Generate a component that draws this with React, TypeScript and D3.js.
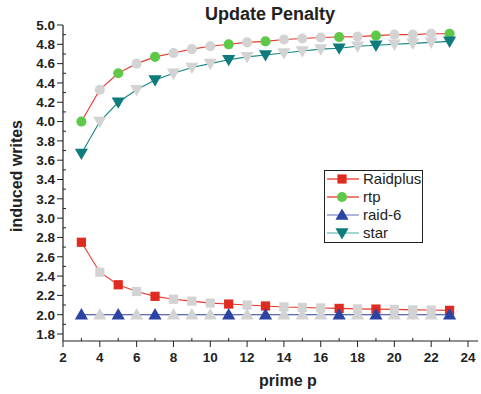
import React from 'react';
import * as d3 from 'd3';

const primes = [3, 4, 5, 6, 7, 8, 9, 10, 11, 12, 13, 14, 15, 16, 17, 18, 19, 20, 21, 22, 23];
const highlighted = [3, 5, 7, 11, 13, 17, 19, 23];

const raidplus = [2.75, 2.44, 2.31, 2.24, 2.19, 2.16, 2.14, 2.12, 2.11, 2.1, 2.09, 2.08, 2.075, 2.07, 2.065, 2.06, 2.058, 2.055, 2.05, 2.048, 2.045];
const rtp = [4.0, 4.33, 4.5, 4.6, 4.67, 4.71, 4.75, 4.78, 4.8, 4.82, 4.83, 4.85, 4.86, 4.87, 4.875, 4.88, 4.89, 4.9, 4.9, 4.91, 4.91];
const raid6 = [2, 2, 2, 2, 2, 2, 2, 2, 2, 2, 2, 2, 2, 2, 2, 2, 2, 2, 2, 2, 2];
const star = [3.67, 4.0, 4.2, 4.33, 4.43, 4.5, 4.56, 4.6, 4.64, 4.67, 4.69, 4.71, 4.73, 4.75, 4.76, 4.78, 4.79, 4.8, 4.81, 4.82, 4.83];

const xTicks = [2, 4, 6, 8, 10, 12, 14, 16, 18, 20, 22, 24];
const yTicks = [1.8, 2.0, 2.2, 2.4, 2.6, 2.8, 3.0, 3.2, 3.4, 3.6, 3.8, 4.0, 4.2, 4.4, 4.6, 4.8, 5.0];

const seriesList = [
  { name: 'Raidplus', values: raidplus, line: '#e8392b', legendLine: '#e8392b', fill: '#e02b20', shape: d3.symbolSquare, size: 85 },
  { name: 'rtp', values: rtp, line: '#e8392b', legendLine: '#e8392b', fill: '#5ec948', shape: d3.symbolCircle, size: 80 },
  { name: 'raid-6', values: raid6, line: '#2a3f9c', legendLine: '#8090cc', fill: '#2b44a3', shape: d3.symbolTriangle, size: 75 },
  { name: 'star', values: star, line: '#148484', legendLine: '#70c0bc', fill: '#0e7c7c', shape: d3.symbolTriangle, size: 75, flip: true },
];

const font = 'Liberation Sans, Arial, Helvetica, sans-serif';

export default function App() {
  const width = 481;
  const height = 394;
  const x = d3.scaleLinear().domain([2, 24]).range([63, 468]);
  const y = d3.scaleLinear().domain([1.8, 5.0]).range([334, 25]);
  const axisY = 341;
  const axisRight = 478;

  const line = d3.line<number>().x((_, i) => x(primes[i])).y((v) => y(v));

  const minorX = d3.range(2, 24.5, 1).filter((v) => v % 2 !== 0);
  const minorY = d3.range(19, 50, 2).map((v) => v / 10);

  return (
    <svg width={width} height={height} style={{ position: 'absolute', left: 0, top: 0 }} fontFamily={font}>
      <rect width={width} height={height} fill="#fff" />
      <text x={270} y={20} textAnchor="middle" fontSize={18} fontWeight="bold" fill="#222">Update Penalty</text>

      {/* axes */}
      <line x1={63} x2={63} y1={y(5.0)} y2={axisY} stroke="#222" strokeWidth={1.2} />
      <line x1={63} x2={axisRight} y1={axisY} y2={axisY} stroke="#222" strokeWidth={1.2} />
      {yTicks.map((t) => (
        <g key={'y' + t}>
          <line x1={57} x2={63} y1={y(t)} y2={y(t)} stroke="#222" />
          <text x={55} y={y(t)} dy="0.36em" textAnchor="end" fontSize={13.5} fontWeight="bold" fill="#222">{t.toFixed(1)}</text>
        </g>
      ))}
      {minorY.map((t) => (
        <line key={'my' + t} x1={63} x2={66} y1={y(t)} y2={y(t)} stroke="#222" />
      ))}
      {xTicks.map((t) => (
        <g key={'x' + t}>
          <line x1={x(t)} x2={x(t)} y1={axisY} y2={axisY + 6} stroke="#222" />
          <text x={x(t)} y={axisY + 21} textAnchor="middle" fontSize={13.5} fontWeight="bold" fill="#222">{t}</text>
        </g>
      ))}
      {minorX.map((t) => (
        <line key={'mx' + t} x1={x(t)} x2={x(t)} y1={axisY} y2={axisY - 3} stroke="#222" />
      ))}
      <text x={288} y={386} textAnchor="middle" fontSize={16} fontWeight="bold" fill="#222">prime p</text>
      <text transform="translate(22,176) rotate(-90)" textAnchor="middle" fontSize={16} fontWeight="bold" fill="#222">induced writes</text>

      {/* series */}
      {seriesList.map((s) => (
        <path key={'l' + s.name} d={line(s.values) || ''} fill="none" stroke={s.line} strokeWidth={1.1} />
      ))}
      {seriesList.map((s) => {
        const sym = d3.symbol().type(s.shape).size(s.size)();
        return (
          <g key={'m' + s.name}>
            {s.values.map((v, i) => {
              const p = primes[i];
              const on = highlighted.includes(p);
              return (
                <path
                  key={p}
                  d={sym || ''}
                  transform={`translate(${x(p)},${y(v) + (s.shape === d3.symbolTriangle ? (s.flip ? -1 : 1) : 0)})${s.flip ? ' rotate(180)' : ''}`}
                  fill={on ? s.fill : '#d3d3d3'}
                />
              );
            })}
          </g>
        );
      })}

      {/* legend */}
      <rect x={324.5} y={170.5} width={98} height={72} fill="#fff" stroke="#222" strokeWidth={1} />
      {seriesList.map((s, i) => {
        const ly = 179 + i * 18;
        const sym = d3.symbol().type(s.shape).size(s.size)();
        return (
          <g key={'lg' + s.name}>
            <line x1={327} x2={359} y1={ly} y2={ly} stroke={s.legendLine} strokeWidth={1.3} />
            <path d={sym || ''} transform={`translate(342,${ly + (s.shape === d3.symbolTriangle ? (s.flip ? -1 : 1) : 0)})${s.flip ? ' rotate(180)' : ''}`} fill={s.fill} />
            <text x={363} y={ly} dy="0.36em" fontSize={15} fill="#222">{s.name}</text>
          </g>
        );
      })}
    </svg>
  );
}
